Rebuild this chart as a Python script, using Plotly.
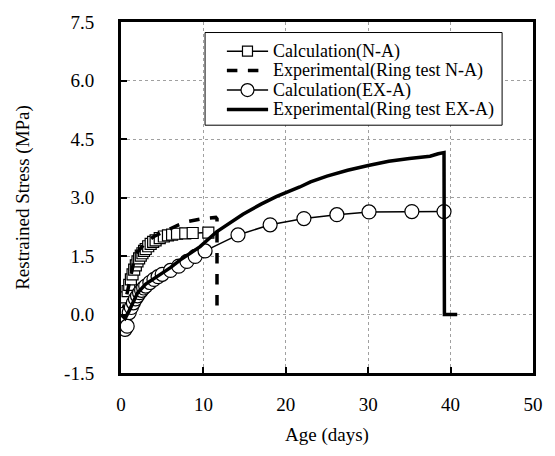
import plotly.graph_objects as go

# Calculation (N-A) - square markers
calc_na_days = [0, 0.2, 0.4, 0.6, 0.8, 1.0, 1.2, 1.4, 1.6, 1.8, 2.0, 2.2, 2.4, 2.6, 2.8, 3.0, 3.3, 3.6, 3.9, 4.2, 4.7, 5.2, 5.7, 6.2, 6.8, 7.8, 8.7, 10.6]
calc_na_vals = [0.0, 0.12, 0.28, 0.44, 0.6, 0.76, 0.9, 1.03, 1.15, 1.26, 1.36, 1.44, 1.51, 1.57, 1.63, 1.68, 1.75, 1.81, 1.86, 1.9, 1.96, 2.0, 2.03, 2.05, 2.07, 2.08, 2.09, 2.1]

# Experimental (Ring test N-A) - dashed
exp_na_days = [0, 0.5, 1.0, 1.5, 2.0, 3.0, 4.0, 5.0, 6.0, 7.0, 8.0, 9.0, 10.0, 11.5, 11.65, 11.65]
exp_na_vals = [0.0, 0.3, 0.8, 1.3, 1.6, 1.85, 2.0, 2.1, 2.22, 2.3, 2.38, 2.43, 2.46, 2.49, 2.45, 0.0]

# Calculation (EX-A) - circle markers
calc_ex_days = [0, 0.25, 0.5, 0.75, 1.0, 1.25, 1.5, 1.75, 2.0, 2.25, 2.5, 2.75, 3.0, 3.5, 4.0, 4.5, 5.0, 6.0, 7.0, 8.0, 9.0, 10.2, 14.2, 18.1, 22.2, 26.2, 30.1, 35.3, 39.2]
calc_ex_vals = [0.0, -0.2, -0.38, -0.3, 0.05, 0.18, 0.3, 0.4, 0.48, 0.56, 0.62, 0.68, 0.73, 0.82, 0.9, 0.97, 1.03, 1.13, 1.24, 1.36, 1.49, 1.63, 2.04, 2.3, 2.46, 2.56, 2.63, 2.64, 2.64]

# Experimental (Ring test EX-A) - solid
exp_ex_days = [0, 0.5, 1.0, 1.5, 2.0, 3.0, 4.0, 4.7, 6.0, 7.2, 8.5, 9.6, 11.6, 13.0, 14.8, 17.0, 18.9, 21.7, 23.0, 25.0, 27.5, 30.0, 32.5, 35.0, 37.5, 38.5, 39.2, 39.25, 40.8]
exp_ex_vals = [0.0, -0.1, 0.1, 0.35, 0.55, 0.78, 0.92, 1.0, 1.2, 1.4, 1.57, 1.74, 2.12, 2.32, 2.57, 2.83, 3.03, 3.27, 3.4, 3.55, 3.7, 3.82, 3.93, 4.0, 4.06, 4.12, 4.15, 0.0, 0.0]

x_ticks = [0, 10, 20, 30, 40, 50]
y_ticks = [-1.5, 0.0, 1.5, 3.0, 4.5, 6.0, 7.5]
y_tick_labels = ["-1.5", "0.0", "1.5", "3.0", "4.5", "6.0", "7.5"]

legend_names = ["Calculation(N-A)", "Experimental(Ring test N-A)", "Calculation(EX-A)", "Experimental(Ring test EX-A)"]

FONT = "Liberation Serif, Times New Roman, serif"

fig = go.Figure()
fig.add_trace(go.Scatter(
    x=calc_na_days, y=calc_na_vals, mode="lines+markers", name=legend_names[0],
    line=dict(color="black", width=1.5),
    marker=dict(symbol="square", size=11, color="white", line=dict(color="black", width=1.2)),
))
fig.add_trace(go.Scatter(
    x=exp_na_days, y=exp_na_vals, mode="lines", name=legend_names[1],
    line=dict(color="black", width=3.5, dash="dash"),
))
fig.add_trace(go.Scatter(
    x=calc_ex_days, y=calc_ex_vals, mode="lines+markers", name=legend_names[2],
    line=dict(color="black", width=1.5),
    marker=dict(symbol="circle", size=14, color="white", line=dict(color="black", width=1.2)),
))
fig.add_trace(go.Scatter(
    x=exp_ex_days, y=exp_ex_vals, mode="lines", name=legend_names[3],
    line=dict(color="black", width=3.5),
))

# ---- hand-laid legend box (paper coordinates of the plot area) ----
box_x0, box_x1, box_y0, box_y1 = 0.204, 0.925, 0.706, 0.970
row_y = [0.917, 0.8615, 0.806, 0.7505]
samp_x0, samp_x1, text_x = 0.257, 0.357, 0.366
mark_x = (samp_x0 + samp_x1) / 2
shapes = [dict(type="rect", xref="paper", yref="paper", x0=box_x0, x1=box_x1, y0=box_y0, y1=box_y1,
               line=dict(color="black", width=1), fillcolor="white", layer="above")]
styles = [dict(width=1.5), dict(width=3.5, dash="dash"), dict(width=1.5), dict(width=3.5)]
annotations = []
for i, name in enumerate(legend_names):
    shapes.append(dict(type="line", xref="paper", yref="paper", x0=samp_x0, x1=samp_x1, y0=row_y[i], y1=row_y[i],
                       line=dict(color="black", **styles[i]), layer="above"))
    annotations.append(dict(xref="paper", yref="paper", x=text_x, y=row_y[i], text=name, showarrow=False,
                            xanchor="left", yanchor="middle", borderpad=0,
                            font=dict(family=FONT, size=18, color="black")))
for i, kind in [(0, "rect"), (2, "circle")]:
    s = 10 if kind == "rect" else 13
    shapes.append(dict(type=kind, xref="paper", yref="paper", xsizemode="pixel", ysizemode="pixel",
                       xanchor=mark_x, yanchor=row_y[i], x0=-s / 2, x1=s / 2, y0=-s / 2, y1=s / 2,
                       line=dict(color="black", width=1.2), fillcolor="white", layer="above"))

fig.update_layout(
    width=555, height=456,
    margin=dict(l=121, r=22, t=12, b=83),
    paper_bgcolor="white", plot_bgcolor="white",
    font=dict(family=FONT, size=19, color="black"),
    showlegend=False,
    shapes=shapes,
    annotations=annotations,
)
fig.update_xaxes(
    range=[0, 50], tickvals=x_ticks, ticks="inside", ticklen=6, tickwidth=2, tickcolor="black",
    showline=True, linewidth=3, linecolor="black", mirror=True,
    showgrid=True, gridcolor="#a0a0a0", griddash="dot", gridwidth=1,
    zeroline=False, ticklabelstandoff=12,
    title=dict(text="Age (days)", font=dict(family=FONT, size=19), standoff=14),
    tickfont=dict(family=FONT, size=19),
)
fig.update_yaxes(
    range=[-1.5, 7.5], tickvals=y_ticks, ticktext=y_tick_labels, ticks="inside", ticklen=6, tickwidth=2, tickcolor="black",
    showline=True, linewidth=3, linecolor="black", mirror=True,
    showgrid=True, gridcolor="#a0a0a0", griddash="dot", gridwidth=1,
    zeroline=False, ticklabelstandoff=20,
    title=dict(text="Restrained Stress (MPa)", font=dict(family=FONT, size=19), standoff=30),
    tickfont=dict(family=FONT, size=19),
)

fig.write_html("out.html")
